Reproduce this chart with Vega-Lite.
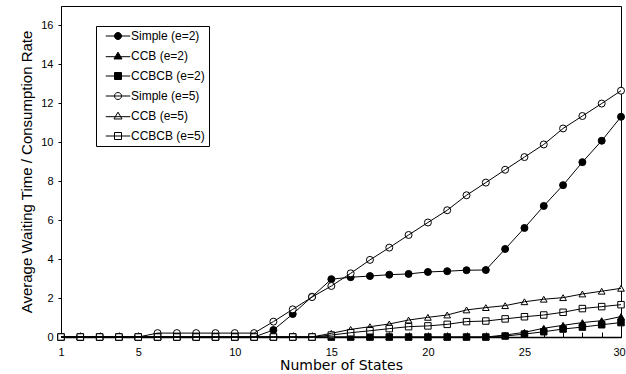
{
  "$schema": "https://vega.github.io/schema/vega-lite/v6.json",
  "autosize": "none",
  "padding": {"left": 61, "top": 6, "right": 5, "bottom": 37},
  "width": 560,
  "height": 331,
  "background": "white",
  "config": {
    "view": {"stroke": "black", "strokeWidth": 1},
    "font": "Liberation Sans"
  },
  "datasets": {
    "pts": [
      {"x":1,"s":"Simple (e=2)","y":0},{"x":2,"s":"Simple (e=2)","y":0},{"x":3,"s":"Simple (e=2)","y":0},{"x":4,"s":"Simple (e=2)","y":0},{"x":5,"s":"Simple (e=2)","y":0},{"x":6,"s":"Simple (e=2)","y":0},{"x":7,"s":"Simple (e=2)","y":0},{"x":8,"s":"Simple (e=2)","y":0},{"x":9,"s":"Simple (e=2)","y":0},{"x":10,"s":"Simple (e=2)","y":0},{"x":11,"s":"Simple (e=2)","y":0},{"x":12,"s":"Simple (e=2)","y":0.36},{"x":13,"s":"Simple (e=2)","y":1.18},{"x":14,"s":"Simple (e=2)","y":2.07},{"x":15,"s":"Simple (e=2)","y":2.97},{"x":16,"s":"Simple (e=2)","y":3.07},{"x":17,"s":"Simple (e=2)","y":3.13},{"x":18,"s":"Simple (e=2)","y":3.2},{"x":19,"s":"Simple (e=2)","y":3.24},{"x":20,"s":"Simple (e=2)","y":3.34},{"x":21,"s":"Simple (e=2)","y":3.38},{"x":22,"s":"Simple (e=2)","y":3.43},{"x":23,"s":"Simple (e=2)","y":3.44},{"x":24,"s":"Simple (e=2)","y":4.52},{"x":25,"s":"Simple (e=2)","y":5.6},{"x":26,"s":"Simple (e=2)","y":6.73},{"x":27,"s":"Simple (e=2)","y":7.8},{"x":28,"s":"Simple (e=2)","y":8.98},{"x":29,"s":"Simple (e=2)","y":10.08},{"x":30,"s":"Simple (e=2)","y":11.31},
      {"x":1,"s":"CCB (e=2)","y":0},{"x":2,"s":"CCB (e=2)","y":0},{"x":3,"s":"CCB (e=2)","y":0},{"x":4,"s":"CCB (e=2)","y":0},{"x":5,"s":"CCB (e=2)","y":0},{"x":6,"s":"CCB (e=2)","y":0},{"x":7,"s":"CCB (e=2)","y":0},{"x":8,"s":"CCB (e=2)","y":0},{"x":9,"s":"CCB (e=2)","y":0},{"x":10,"s":"CCB (e=2)","y":0},{"x":11,"s":"CCB (e=2)","y":0},{"x":12,"s":"CCB (e=2)","y":0},{"x":13,"s":"CCB (e=2)","y":0},{"x":14,"s":"CCB (e=2)","y":0},{"x":15,"s":"CCB (e=2)","y":0},{"x":16,"s":"CCB (e=2)","y":0},{"x":17,"s":"CCB (e=2)","y":0},{"x":18,"s":"CCB (e=2)","y":0},{"x":19,"s":"CCB (e=2)","y":0},{"x":20,"s":"CCB (e=2)","y":0},{"x":21,"s":"CCB (e=2)","y":0},{"x":22,"s":"CCB (e=2)","y":0},{"x":23,"s":"CCB (e=2)","y":0},{"x":24,"s":"CCB (e=2)","y":0.1},{"x":25,"s":"CCB (e=2)","y":0.24},{"x":26,"s":"CCB (e=2)","y":0.45},{"x":27,"s":"CCB (e=2)","y":0.6},{"x":28,"s":"CCB (e=2)","y":0.74},{"x":29,"s":"CCB (e=2)","y":0.84},{"x":30,"s":"CCB (e=2)","y":1.05},
      {"x":1,"s":"CCBCB (e=2)","y":0},{"x":2,"s":"CCBCB (e=2)","y":0},{"x":3,"s":"CCBCB (e=2)","y":0},{"x":4,"s":"CCBCB (e=2)","y":0},{"x":5,"s":"CCBCB (e=2)","y":0},{"x":6,"s":"CCBCB (e=2)","y":0},{"x":7,"s":"CCBCB (e=2)","y":0},{"x":8,"s":"CCBCB (e=2)","y":0},{"x":9,"s":"CCBCB (e=2)","y":0},{"x":10,"s":"CCBCB (e=2)","y":0},{"x":11,"s":"CCBCB (e=2)","y":0},{"x":12,"s":"CCBCB (e=2)","y":0},{"x":13,"s":"CCBCB (e=2)","y":0},{"x":14,"s":"CCBCB (e=2)","y":0},{"x":15,"s":"CCBCB (e=2)","y":0},{"x":16,"s":"CCBCB (e=2)","y":0},{"x":17,"s":"CCBCB (e=2)","y":0},{"x":18,"s":"CCBCB (e=2)","y":0},{"x":19,"s":"CCBCB (e=2)","y":0},{"x":20,"s":"CCBCB (e=2)","y":0},{"x":21,"s":"CCBCB (e=2)","y":0},{"x":22,"s":"CCBCB (e=2)","y":0},{"x":23,"s":"CCBCB (e=2)","y":0},{"x":24,"s":"CCBCB (e=2)","y":0.05},{"x":25,"s":"CCBCB (e=2)","y":0.15},{"x":26,"s":"CCBCB (e=2)","y":0.27},{"x":27,"s":"CCBCB (e=2)","y":0.41},{"x":28,"s":"CCBCB (e=2)","y":0.51},{"x":29,"s":"CCBCB (e=2)","y":0.63},{"x":30,"s":"CCBCB (e=2)","y":0.74},
      {"x":1,"s":"Simple (e=5)","y":0},{"x":2,"s":"Simple (e=5)","y":0},{"x":3,"s":"Simple (e=5)","y":0},{"x":4,"s":"Simple (e=5)","y":0},{"x":5,"s":"Simple (e=5)","y":0},{"x":6,"s":"Simple (e=5)","y":0.2},{"x":7,"s":"Simple (e=5)","y":0.2},{"x":8,"s":"Simple (e=5)","y":0.2},{"x":9,"s":"Simple (e=5)","y":0.2},{"x":10,"s":"Simple (e=5)","y":0.2},{"x":11,"s":"Simple (e=5)","y":0.2},{"x":12,"s":"Simple (e=5)","y":0.79},{"x":13,"s":"Simple (e=5)","y":1.42},{"x":14,"s":"Simple (e=5)","y":2.05},{"x":15,"s":"Simple (e=5)","y":2.62},{"x":16,"s":"Simple (e=5)","y":3.27},{"x":17,"s":"Simple (e=5)","y":3.96},{"x":18,"s":"Simple (e=5)","y":4.59},{"x":19,"s":"Simple (e=5)","y":5.24},{"x":20,"s":"Simple (e=5)","y":5.88},{"x":21,"s":"Simple (e=5)","y":6.51},{"x":22,"s":"Simple (e=5)","y":7.28},{"x":23,"s":"Simple (e=5)","y":7.93},{"x":24,"s":"Simple (e=5)","y":8.59},{"x":25,"s":"Simple (e=5)","y":9.24},{"x":26,"s":"Simple (e=5)","y":9.89},{"x":27,"s":"Simple (e=5)","y":10.71},{"x":28,"s":"Simple (e=5)","y":11.35},{"x":29,"s":"Simple (e=5)","y":11.99},{"x":30,"s":"Simple (e=5)","y":12.65},
      {"x":1,"s":"CCB (e=5)","y":0},{"x":2,"s":"CCB (e=5)","y":0},{"x":3,"s":"CCB (e=5)","y":0},{"x":4,"s":"CCB (e=5)","y":0},{"x":5,"s":"CCB (e=5)","y":0},{"x":6,"s":"CCB (e=5)","y":0},{"x":7,"s":"CCB (e=5)","y":0},{"x":8,"s":"CCB (e=5)","y":0},{"x":9,"s":"CCB (e=5)","y":0},{"x":10,"s":"CCB (e=5)","y":0},{"x":11,"s":"CCB (e=5)","y":0},{"x":12,"s":"CCB (e=5)","y":0},{"x":13,"s":"CCB (e=5)","y":0},{"x":14,"s":"CCB (e=5)","y":0},{"x":15,"s":"CCB (e=5)","y":0.19},{"x":16,"s":"CCB (e=5)","y":0.39},{"x":17,"s":"CCB (e=5)","y":0.53},{"x":18,"s":"CCB (e=5)","y":0.67},{"x":19,"s":"CCB (e=5)","y":0.87},{"x":20,"s":"CCB (e=5)","y":1.01},{"x":21,"s":"CCB (e=5)","y":1.13},{"x":22,"s":"CCB (e=5)","y":1.39},{"x":23,"s":"CCB (e=5)","y":1.51},{"x":24,"s":"CCB (e=5)","y":1.61},{"x":25,"s":"CCB (e=5)","y":1.81},{"x":26,"s":"CCB (e=5)","y":1.94},{"x":27,"s":"CCB (e=5)","y":2.02},{"x":28,"s":"CCB (e=5)","y":2.21},{"x":29,"s":"CCB (e=5)","y":2.35},{"x":30,"s":"CCB (e=5)","y":2.5},
      {"x":1,"s":"CCBCB (e=5)","y":0},{"x":2,"s":"CCBCB (e=5)","y":0},{"x":3,"s":"CCBCB (e=5)","y":0},{"x":4,"s":"CCBCB (e=5)","y":0},{"x":5,"s":"CCBCB (e=5)","y":0},{"x":6,"s":"CCBCB (e=5)","y":0},{"x":7,"s":"CCBCB (e=5)","y":0},{"x":8,"s":"CCBCB (e=5)","y":0},{"x":9,"s":"CCBCB (e=5)","y":0},{"x":10,"s":"CCBCB (e=5)","y":0},{"x":11,"s":"CCBCB (e=5)","y":0},{"x":12,"s":"CCBCB (e=5)","y":0},{"x":13,"s":"CCBCB (e=5)","y":0},{"x":14,"s":"CCBCB (e=5)","y":0},{"x":15,"s":"CCBCB (e=5)","y":0.1},{"x":16,"s":"CCBCB (e=5)","y":0.22},{"x":17,"s":"CCBCB (e=5)","y":0.32},{"x":18,"s":"CCBCB (e=5)","y":0.43},{"x":19,"s":"CCBCB (e=5)","y":0.53},{"x":20,"s":"CCBCB (e=5)","y":0.57},{"x":21,"s":"CCBCB (e=5)","y":0.65},{"x":22,"s":"CCBCB (e=5)","y":0.79},{"x":23,"s":"CCBCB (e=5)","y":0.82},{"x":24,"s":"CCBCB (e=5)","y":0.93},{"x":25,"s":"CCBCB (e=5)","y":1.04},{"x":26,"s":"CCBCB (e=5)","y":1.13},{"x":27,"s":"CCBCB (e=5)","y":1.27},{"x":28,"s":"CCBCB (e=5)","y":1.46},{"x":29,"s":"CCBCB (e=5)","y":1.56},{"x":30,"s":"CCBCB (e=5)","y":1.66}
    ]
  },
  "encoding": {
    "x": {
      "field": "x", "type": "quantitative",
      "scale": {"domain": [1, 30], "nice": false, "zero": false},
      "axis": {
        "values": [1,2,3,4,5,6,7,8,9,10,11,12,13,14,15,16,17,18,19,20,21,22,23,24,25,26,27,28,29,30],
        "labelExpr": "indexof([1,5,10,15,20,25,30], datum.value) >= 0 ? datum.label : ''",
        "labelOverlap": false, "labelFlush": false,
        "labelOffset": {"condition": {"test": "datum.value == 30", "value": -2}, "value": 0},
        "grid": false, "tickSize": -5, "tickColor": "black", "domainColor": "black", "domainWidth": 1.5,
        "labelPadding": 14, "labelFontSize": 11, "labelColor": "black", "labelFont": "Liberation Sans",
        "title": "Number of States", "titleFont": "DejaVu Sans", "titleFontSize": 14, "titleFontWeight": "normal", "titleColor": "black", "titlePadding": 1
      }
    },
    "y": {
      "field": "y", "type": "quantitative",
      "scale": {"domain": [0, 17], "nice": false},
      "axis": {
        "values": [0,2,4,6,8,10,12,14,16],
        "grid": false, "tickSize": 3, "tickColor": "black", "domainColor": "black",
        "labelPadding": 5, "labelFontSize": 11, "labelColor": "black", "labelFont": "Liberation Sans",
        "title": "Average Waiting Time / Consumption Rate", "titleFont": "Liberation Sans", "titleFontSize": 15, "titleFontWeight": "normal", "titleColor": "black", "titlePadding": 6
      }
    }
  },
  "layer": [
    {
      "data": {"name": "pts"},
      "transform": [{"filter": "indexof(datum.s, 'Simple') == 0"}],
      "mark": {"type": "point", "shape": "circle", "filled": true, "stroke": "black", "strokeWidth": 1, "opacity": 1, "size": 49},
      "encoding": {
        "fill": {"field": "s", "type": "nominal"}
      }
    },
    {
      "data": {"name": "pts"},
      "transform": [{"filter": "indexof(datum.s, 'CCB ') == 0"}],
      "mark": {"type": "point", "shape": "triangle-up", "filled": true, "stroke": "black", "strokeWidth": 1, "opacity": 1, "size": 45},
      "encoding": {
        "fill": {"field": "s", "type": "nominal"}
      }
    },
    {
      "data": {"name": "pts"},
      "transform": [{"filter": "indexof(datum.s, 'CCBCB') == 0"}],
      "mark": {"type": "point", "shape": "square", "filled": true, "stroke": "black", "strokeWidth": 1, "opacity": 1, "size": 42},
      "encoding": {
        "fill": {"field": "s", "type": "nominal"}
      }
    },
    {
      "data": {"name": "pts"},
      "mark": {"type": "line", "color": "black", "strokeWidth": 1},
      "encoding": {
        "detail": {"field": "s", "type": "nominal"}
      }
    },
    {
      "data": {"values": []},
      "mark": {"type": "point", "filled": true, "stroke": "black", "strokeWidth": 1, "opacity": 1, "size": 49},
      "encoding": {
        "x": null,
        "y": null,
        "shape": {
          "field": "s", "type": "nominal",
          "scale": {"domain": ["Simple (e=2)","CCB (e=2)","CCBCB (e=2)","Simple (e=5)","CCB (e=5)","CCBCB (e=5)"],
            "range": [
              "M-3.5,0H3.5M1,0A1,1 0 1,1 -1,0A1,1 0 1,1 1,0Z",
              "M-3.5,0.2H3.5M0,-1.1L1.15,0.85L-1.15,0.85Z",
              "M-3.5,0H3.5M-1,-1H1V1H-1Z",
              "M-3.5,0H3.5M1,0A1,1 0 1,1 -1,0A1,1 0 1,1 1,0Z",
              "M-3.5,0.2H3.5M0,-1.1L1.15,0.85L-1.15,0.85Z",
              "M-3.5,0H3.5M-1,-1H1V1H-1Z"
            ]},
          "legend": {
            "orient": "none", "legendX": 35, "legendY": 20, "title": null,
            "strokeColor": "black", "fillColor": "white", "padding": 4,
            "symbolOffset": 12, "labelOffset": 7, "rowPadding": 8, "symbolSize": 49,
            "symbolStrokeColor": "black", "symbolStrokeWidth": 1,
            "labelFont": "Liberation Sans", "labelFontSize": 12, "labelColor": "black"
          }
        },
        "fill": {
          "field": "s", "type": "nominal",
          "scale": {"domain": ["Simple (e=2)","CCB (e=2)","CCBCB (e=2)","Simple (e=5)","CCB (e=5)","CCBCB (e=5)"], "range": ["black","black","black","white","white","white"]},
          "legend": {
            "orient": "none", "legendX": 35, "legendY": 20, "title": null,
            "strokeColor": "black", "fillColor": "white", "padding": 4,
            "symbolOffset": 12, "labelOffset": 7, "rowPadding": 8, "symbolSize": 49,
            "symbolStrokeColor": "black", "symbolStrokeWidth": 1,
            "labelFont": "Liberation Sans", "labelFontSize": 12, "labelColor": "black"
          }
        }
      }
    }
  ]
}
